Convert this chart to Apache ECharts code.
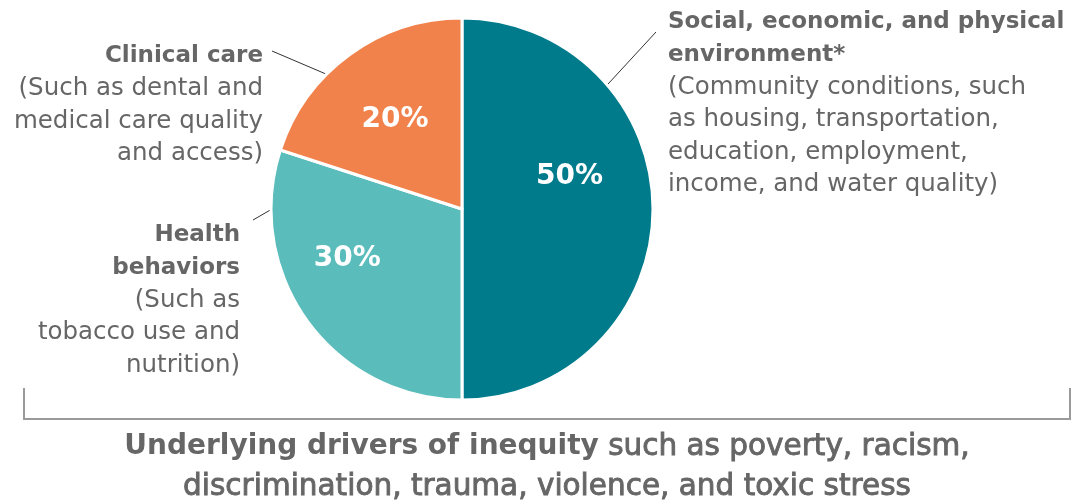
<!DOCTYPE html>
<html><head><meta charset="utf-8">
<script src="https://cdn.jsdelivr.net/npm/echarts@6/dist/echarts.min.js"></script>
<style>html,body{margin:0;padding:0;background:#fff}#c{width:1078px;height:501px}</style>
</head><body><div id="c"></div>
<script>
// ---- data ----
const categories = ['Social, economic, and physical environment*', 'Health behaviors', 'Clinical care'];
const shares = [50, 30, 20];
const titleLines = [
  ['Social, economic, and physical', 'environment*'],
  ['Health', 'behaviors'],
  ['Clinical care']
];
const detailLines = [
  ['(Community conditions, such', 'as housing, transportation,', 'education, employment,', 'income, and water quality)'],
  ['(Such as', 'tobacco use and', 'nutrition)'],
  ['(Such as dental and', 'medical care quality', 'and access)']
];
const footBold = 'Underlying drivers of inequity';
const footRest1 = ' such as poverty, racism,';
const footLine2 = 'discrimination, trauma, violence, and toxic stress';

// ---- styles ----
const colors = ['#007B8C', '#5ABDBC', '#F2824B'];
const FONT = '"DejaVu Sans", sans-serif';
const GRAY = '#666666';
const labelOffsets = [[9, -32], [-35, -8], [-9, -10]];
const blockPos = [
  {x: 668, y: 6, align: 'left'},
  {x: 240, y: 219, align: 'right'},
  {x: 263, y: 40, align: 'right'}
];
const leaders = [
  [[585, 109], [656, 32]],
  [[291, 198], [253, 220]],
  [[347, 83], [272, 51]]
];

const chart = echarts.init(document.getElementById('c'));
const graphics = [];
for (let i = 0; i < categories.length; i++) {
  const txt = titleLines[i].map(s => '{b|' + s + '}').concat(detailLines[i].map(s => '{r|' + s + '}')).join('\n');
  graphics.push({
    type: 'text', x: blockPos[i].x, y: blockPos[i].y,
    style: {
      text: txt, align: blockPos[i].align, verticalAlign: 'top',
      rich: {
        b: {fontFamily: FONT, fontSize: 23, fontWeight: 700, fill: GRAY, lineHeight: 32.5},
        r: {fontFamily: FONT, fontSize: 24.5, fontWeight: 400, fill: GRAY, lineHeight: 32.5}
      }
    }
  });
  graphics.push({
    type: 'line',
    shape: {x1: leaders[i][0][0], y1: leaders[i][0][1], x2: leaders[i][1][0], y2: leaders[i][1][1]},
    style: {stroke: '#333', lineWidth: 1}
  });
}
graphics.push({
  type: 'polyline',
  shape: {points: [[24, 388], [24, 419], [1070, 419], [1070, 388]]},
  style: {stroke: '#9a9a9a', lineWidth: 2, fill: null}
});
graphics.push({
  type: 'text', x: 547, y: 427,
  style: {
    text: '{bb|' + footBold + '}{sb|' + footRest1 + '}\n{sb|' + footLine2 + '}',
    align: 'center', verticalAlign: 'top',
    rich: {
      bb: {fontFamily: FONT, fontSize: 28, fontWeight: 700, fill: GRAY, lineHeight: 40},
      sb: {fontFamily: FONT, fontSize: 29.5, fontWeight: 400, fill: GRAY, lineHeight: 40,
           stroke: GRAY, lineWidth: 0.9}
    }
  }
});

chart.setOption({
  animation: false,
  backgroundColor: '#ffffff',
  series: [{
    type: 'pie',
    center: [462, 209],
    radius: [0, 191],
    startAngle: 90,
    clockwise: true,
    silent: true,
    itemStyle: {borderColor: '#ffffff', borderWidth: 3},
    label: {
      show: true, position: 'inside', formatter: '{c}%',
      color: '#ffffff', fontFamily: FONT, fontSize: 28, fontWeight: 700
    },
    labelLine: {show: false},
    data: categories.map((n, i) => ({
      name: n, value: shares[i],
      itemStyle: {color: colors[i]},
      label: {offset: labelOffsets[i]}
    }))
  }],
  graphic: graphics
});
</script></body></html>
